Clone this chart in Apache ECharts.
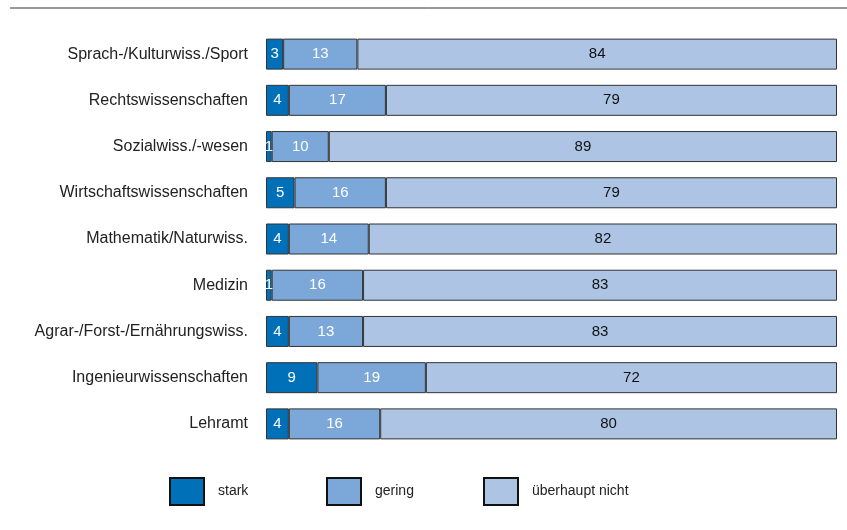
<!DOCTYPE html>
<html><head><meta charset="utf-8">
<script src="https://cdn.jsdelivr.net/npm/echarts@6/dist/echarts.min.js"></script>
<style>html,body{margin:0;padding:0;background:#fff}#c{width:847px;height:530px}</style>
</head><body><div id="c"></div>
<script>
const categories = ["Sprach-/Kulturwiss./Sport","Rechtswissenschaften","Sozialwiss./-wesen","Wirtschaftswissenschaften","Mathematik/Naturwiss.","Medizin","Agrar-/Forst-/Ernährungswiss.","Ingenieurwissenschaften","Lehramt"];
const stark = [3,4,1,5,4,1,4,9,4];
const gering = [13,17,10,16,14,16,13,19,16];
const ueberhaupt = [84,79,89,79,82,83,83,72,80];
const seriesNames = ["stark","gering","überhaupt nicht"];
const colors = ["#0070b8","#7ba7d9","#adc4e5"];
const labelColors = ["#fff","#fff","#111"];
const values = [stark, gering, ueberhaupt];
const font = "'Liberation Sans', Arial, sans-serif";

const chart = echarts.init(document.getElementById('c'));
const legendLefts = [169, 326, 483];
chart.setOption({
  animation: false,
  textStyle: {fontFamily: font},
  grid: {left: 266, right: 10, top: 31, height: 416},
  xAxis: {type: 'value', min: 0, max: 100, show: false},
  yAxis: {type: 'category', data: categories, inverse: true,
    axisLine: {show: false}, axisTick: {show: false},
    axisLabel: {fontSize: 16, color: '#222', margin: 18, fontFamily: font}},
  legend: seriesNames.map((n, i) => ({
    data: [n], left: legendLefts[i], top: 477, padding: 0, icon: 'rect',
    itemWidth: 34, itemHeight: 27,
    itemStyle: {borderColor: '#111', borderWidth: 2},
    textStyle: {fontSize: 14, color: '#222', padding: [0,0,4,9], fontFamily: font},
    selectedMode: false
  })),
  graphic: [{type: 'line', shape: {x1: 10, y1: 8, x2: 847, y2: 8}, style: {stroke: '#333', lineWidth: 1}}],
  series: seriesNames.map((n, i) => ({
    name: n, type: 'bar', stack: 'a', data: values[i], barWidth: 31,
    itemStyle: {color: colors[i], borderColor: '#333', borderWidth: 1},
    label: {show: true, position: 'inside', color: labelColors[i], fontSize: 15, fontFamily: font}
  }))
});
</script></body></html>
